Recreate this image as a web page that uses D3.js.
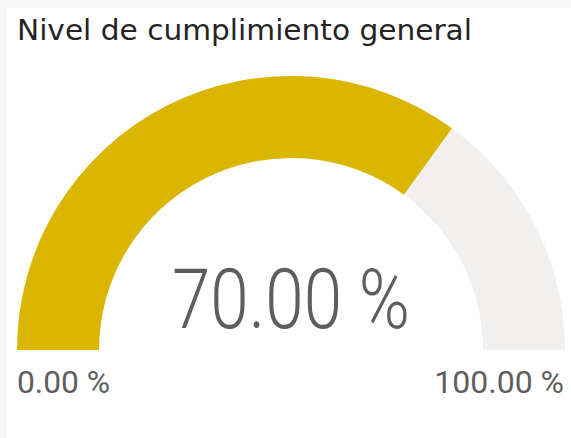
<!DOCTYPE html>
<html>
<head>
<meta charset="utf-8">
<script src="https://cdn.jsdelivr.net/npm/d3@7"></script>
<style>
  body { margin: 0; background: #f7f7f7; }
  svg { display: block; }
</style>
</head>
<body>
<svg width="571" height="438"></svg>
<script>
var title = "Nivel de cumplimiento general";
var gaugeMin = [0];
var gaugeMax = [100];
var gaugeValue = [70];
var minLabel = ["0.00 %"];
var maxLabel = ["100.00 %"];

function init() {
  var svg = d3.select("svg");

  // card
  svg.append("rect")
      .attr("x", 7).attr("y", 8)
      .attr("width", 564).attr("height", 430)
      .attr("fill", "#ffffff");

  svg.append("text")
      .attr("x", 17).attr("y", 40)
      .attr("font-family", "'DejaVu Sans Condensed', 'DejaVu Sans', sans-serif")
      .attr("font-size", 29)
      .attr("fill", "#252423")
      .attr("textLength", 455)
      .attr("lengthAdjust", "spacingAndGlyphs")
      .text(title);

  var cx = 291, cy = 350, outerR = 274, innerR = 192;

  var angle = d3.scaleLinear()
      .domain([gaugeMin[0], gaugeMax[0]])
      .range([-Math.PI / 2, Math.PI / 2]);

  var arc = d3.arc().innerRadius(innerR).outerRadius(outerR);

  var g = svg.append("g").attr("transform", "translate(" + cx + "," + cy + ")");

  g.append("path")
      .attr("d", arc({startAngle: angle(gaugeMin[0]), endAngle: angle(gaugeMax[0])}))
      .attr("fill", "#f1f0ef");

  g.append("path")
      .attr("d", arc({startAngle: angle(gaugeMin[0]), endAngle: angle(gaugeValue[0])}))
      .attr("fill", "#dab600");

  var fmt = function (v) { return d3.format(".2f")(v) + " %"; };

  g.append("text")
      .attr("x", 0).attr("y", -22)
      .attr("text-anchor", "middle")
      .attr("font-family", "Roboto, sans-serif")
      .attr("font-weight", 300)
      .attr("font-size", 84)
      .attr("fill", "#605e5c")
      .attr("textLength", 238)
      .attr("lengthAdjust", "spacingAndGlyphs")
      .text(fmt(gaugeValue[0]));

  svg.append("text")
      .attr("x", 17).attr("y", 393)
      .attr("font-family", "Roboto, sans-serif")
      .attr("font-size", 32)
      .attr("fill", "#605e5c")
      .attr("textLength", 93)
      .attr("lengthAdjust", "spacingAndGlyphs")
      .text(minLabel[0]);

  svg.append("text")
      .attr("x", 564).attr("y", 393)
      .attr("text-anchor", "end")
      .attr("font-family", "Roboto, sans-serif")
      .attr("font-size", 32)
      .attr("fill", "#605e5c")
      .text(maxLabel[0]);
}

window.onload = init;
</script>
</body>
</html>
